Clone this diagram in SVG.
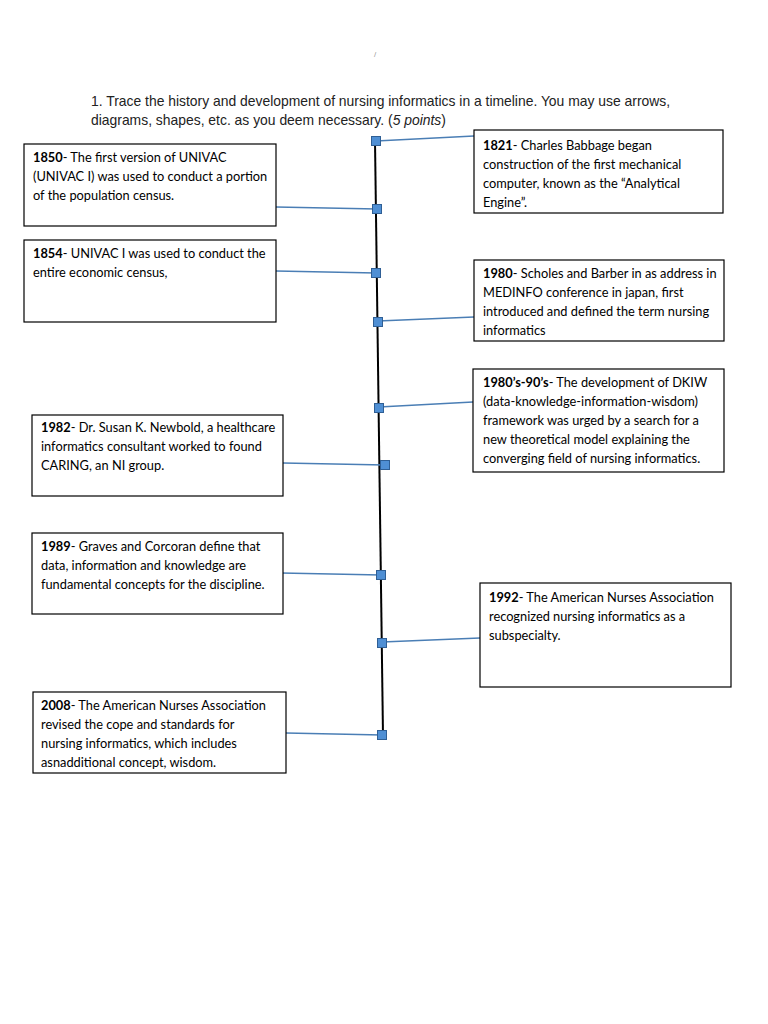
<svg xmlns="http://www.w3.org/2000/svg" width="768" height="1024" viewBox="0 0 768 1024">
<style>
.box{fill:#fff;stroke:#000;stroke-width:1.2}
.t{font-family:Lato,"Liberation Sans",sans-serif;font-size:12.8px;fill:#000}
.b{font-weight:bold}
.h{font-family:"Liberation Sans",Arial,sans-serif;font-size:13.9px;fill:#222}
.c{stroke:#4a7eb5;stroke-width:1.3;fill:none}
.m{fill:#4f8fd4;stroke:#2f5f95;stroke-width:1}
</style>
<rect width="768" height="1024" fill="#fff"/>
<text x="374" y="57" class="h" style="font-size:8px;fill:#999">/</text>
<text class="h" x="91" y="106">1. Trace the history and development of nursing informatics in a timeline. You may use arrows,</text>
<text class="h" x="91" y="125">diagrams, shapes, etc. as you deem necessary. (<tspan font-style="italic">5 points</tspan>)</text>

<g id="connectors">
<path d="M375,141 L383,735" stroke="#000" stroke-width="2" fill="none"/>
<line class="c" x1="376" y1="141" x2="474" y2="136"/>
<line class="c" x1="276" y1="207" x2="377" y2="209"/>
<line class="c" x1="276" y1="271" x2="376" y2="273"/>
<line class="c" x1="378" y1="321" x2="474" y2="317"/>
<line class="c" x1="379" y1="407" x2="473" y2="402"/>
<line class="c" x1="283" y1="463" x2="385" y2="465"/>
<line class="c" x1="281" y1="573" x2="381" y2="575"/>
<line class="c" x1="382" y1="642" x2="480" y2="638"/>
<line class="c" x1="286" y1="733" x2="382" y2="735"/>
<rect class="m" x="371.5" y="136.5" width="9" height="9"/>
<rect class="m" x="372.5" y="204.5" width="9" height="9"/>
<rect class="m" x="371.5" y="268.5" width="9" height="9"/>
<rect class="m" x="373.5" y="317.5" width="9" height="9"/>
<rect class="m" x="374.5" y="403.5" width="9" height="9"/>
<rect class="m" x="380.5" y="460.5" width="9" height="9"/>
<rect class="m" x="376.5" y="570.5" width="9" height="9"/>
<rect class="m" x="377.5" y="638.5" width="9" height="9"/>
<rect class="m" x="377.5" y="730.5" width="9" height="9"/>
</g>

<g id="n1821">
<rect class="box" x="474" y="130" width="249" height="83"/>
<text class="t" x="483" y="150"><tspan class="b">1821</tspan>- Charles Babbage began</text>
<text class="t" x="483" y="169">construction of the first mechanical</text>
<text class="t" x="483" y="188">computer, known as the “Analytical</text>
<text class="t" x="483" y="207">Engine”.</text>
</g>

<g id="n1850">
<rect class="box" x="24" y="144" width="252" height="82"/>
<text class="t" x="33" y="162"><tspan class="b">1850</tspan>- The first version of UNIVAC</text>
<text class="t" x="33" y="181">(UNIVAC I) was used to conduct a portion</text>
<text class="t" x="33" y="200">of the population census.</text>
</g>

<g id="n1854">
<rect class="box" x="24" y="240" width="252" height="82"/>
<text class="t" x="33" y="258"><tspan class="b">1854</tspan>- UNIVAC I was used to conduct the</text>
<text class="t" x="33" y="277">entire economic census,</text>
</g>

<g id="n1980">
<rect class="box" x="474" y="260" width="250" height="81"/>
<text class="t" x="483" y="278"><tspan class="b">1980</tspan>- Scholes and Barber in as address in</text>
<text class="t" x="483" y="297">MEDINFO conference in japan, first</text>
<text class="t" x="483" y="316">introduced and defined the term nursing</text>
<text class="t" x="483" y="335">informatics</text>
</g>

<g id="n1980s">
<rect class="box" x="473" y="369" width="251" height="103"/>
<text class="t" x="483" y="387"><tspan class="b">1980’s-90’s</tspan>- The development of DKIW</text>
<text class="t" x="483" y="406">(data-knowledge-information-wisdom)</text>
<text class="t" x="483" y="425">framework was urged by a search for a</text>
<text class="t" x="483" y="444">new theoretical model explaining the</text>
<text class="t" x="483" y="463">converging field of nursing informatics.</text>
</g>

<g id="n1982">
<rect class="box" x="32" y="415" width="251" height="81"/>
<text class="t" x="41" y="432"><tspan class="b">1982</tspan>- Dr. Susan K. Newbold, a healthcare</text>
<text class="t" x="41" y="451">informatics consultant worked to found</text>
<text class="t" x="41" y="470">CARING, an NI group.</text>
</g>

<g id="n1989">
<rect class="box" x="32" y="533" width="251" height="81"/>
<text class="t" x="41" y="551"><tspan class="b">1989</tspan>- Graves and Corcoran define that</text>
<text class="t" x="41" y="570">data, information and knowledge are</text>
<text class="t" x="41" y="589">fundamental concepts for the discipline.</text>
</g>

<g id="n1992">
<rect class="box" x="480" y="583" width="251" height="104"/>
<text class="t" x="489" y="602"><tspan class="b">1992</tspan>- The American Nurses Association</text>
<text class="t" x="489" y="621">recognized nursing informatics as a</text>
<text class="t" x="489" y="640">subspecialty.</text>
</g>

<g id="n2008">
<rect class="box" x="33" y="692" width="253" height="81"/>
<text class="t" x="41" y="710"><tspan class="b">2008</tspan>- The American Nurses Association</text>
<text class="t" x="41" y="729">revised the cope and standards for</text>
<text class="t" x="41" y="748">nursing informatics, which includes</text>
<text class="t" x="41" y="767">asnadditional concept, wisdom.</text>
</g>
</svg>
